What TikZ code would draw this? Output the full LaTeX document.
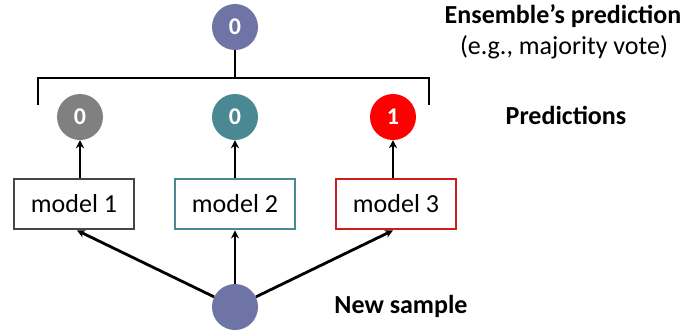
\documentclass[tikz,border=0pt]{standalone}
\usepackage{fontspec}
\setmainfont{Carlito}
\usetikzlibrary{arrows.meta, positioning}
\definecolor{sampleblue}{RGB}{110,116,166}
\definecolor{predgray}{RGB}{128,128,128}
\definecolor{predteal}{RGB}{74,136,147}
\definecolor{predred}{RGB}{255,0,0}
\definecolor{boxgray}{RGB}{70,70,70}
\definecolor{boxred}{RGB}{205,30,30}

\tikzset{
  pred/.style={circle, minimum size=46pt, inner sep=0pt, text=white, font=\fontsize{24}{26}\selectfont\bfseries},
  modelbox/.style={draw, line width=2.8pt, fill=white, minimum width=120pt, minimum height=50pt, font=\fontsize{26}{28}\selectfont},
  lbl/.style={font=\fontsize{26}{28}\selectfont\bfseries},
  conn/.style={line width=2.8pt, -{Stealth[length=8pt,width=8pt]}},
}

\begin{document}
\begin{tikzpicture}[x=1pt,y=-1pt]
    \useasboundingbox (0,0) rectangle (686,330);

    % Ensemble
    \node[pred, fill=sampleblue] (top) at (235,27) {0};
    \coordinate (join) at (235,78);
    \coordinate (brL) at (38,105);
    \coordinate (brR) at (429,105);
    \draw[line width=2.8pt] (top) -- (join);
    \draw[line width=2.8pt] (brL) |- (join) -| (brR);

    % Predictions
    \node[pred, fill=predgray] (pred1) at (80,117) {0};
    \node[pred, fill=predteal] (pred2) at (235,117) {0};
    \node[pred, fill=predred] (pred3) at (393,117) {1};

    % Models
    \node[modelbox, draw=boxgray] (model1) at (74,204) {model 1};
    \node[modelbox, draw=predteal] (model2) at (235,204) {model 2};
    \node[modelbox, draw=boxred] (model3) at (396,204) {model 3};

    % New sample
    \node[pred, fill=sampleblue] (sample) at (235,307) {};

    \draw[conn] (model1.north -| pred1) -- (pred1);
    \draw[conn] (model2) -- (pred2);
    \draw[conn] (model3.north -| pred3) -- (pred3);

    \draw[conn] (sample) -- (model1.south -| 77,0);
    \draw[conn] (sample) -- (model2);
    \draw[conn] (sample) -- (model3.south -| 393,0);

    % Labels
    \node[lbl] (ens) at (563,16) {Ensemble’s prediction};
    \node[font=\fontsize{26}{28}\selectfont] (vote) at (564,47) {(e.g., majority vote)};
    \node[lbl] (plbl) at (566,115) {Predictions};
    \node[lbl] (slbl) at (401,306) {New sample};
\end{tikzpicture}
\end{document}
